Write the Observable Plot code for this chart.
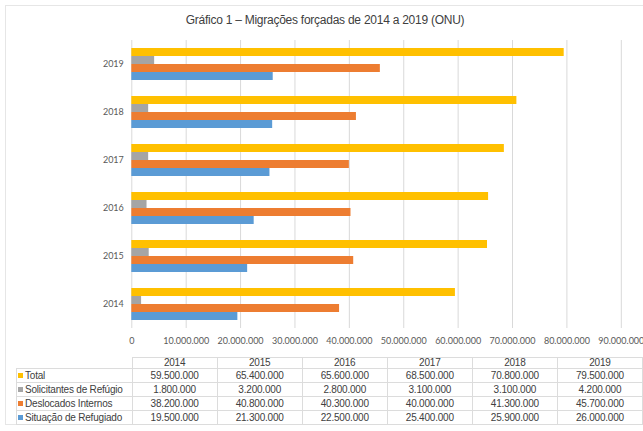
<!DOCTYPE html>
<html><head><meta charset="utf-8">
<script src="https://cdn.jsdelivr.net/npm/d3@7"></script>
<script src="https://cdn.jsdelivr.net/npm/@observablehq/plot@0.6"></script>
<style>
html,body{margin:0;padding:0;background:#fff;}
#wrap{position:relative;width:643px;height:431px;overflow:hidden;font-family:"Liberation Sans",Arial,sans-serif;}
#frame{position:absolute;left:5px;top:5px;width:660px;height:420px;border:1px solid #e6e6e6;box-sizing:border-box;}
#title{position:absolute;left:0;top:13px;width:650px;text-align:center;font-size:12px;color:#404040;letter-spacing:-0.25px;}
#chart{position:absolute;left:0;top:0;}
#tbl{position:absolute;left:16px;top:357px;border-collapse:collapse;font-size:10px;color:#404040;letter-spacing:-0.2px;table-layout:fixed;}
#tbl td{border:1px solid #dcdcdc;padding:0;text-align:center;height:13px;line-height:13px;white-space:nowrap;overflow:hidden;}
#tbl tr.h td{height:9.5px;line-height:9.5px;}
#tbl td.lab{text-align:left;padding-left:1px;}
#tbl td.blank{border:none;}
.sw{display:inline-block;width:5px;height:5px;margin-right:2px;vertical-align:1px;}
</style></head>
<body><div id="wrap"><div id="frame"></div><div id="title">Gráfico 1 – Migrações forçadas de 2014 a 2019 (ONU)</div><div id="chart"></div><table id="tbl"></table></div>
<script>
const years = ["2014","2015","2016","2017","2018","2019"];
const seriesNames = ["Total","Solicitantes de Refúgio","Deslocados Internos","Situação de Refugiado"];
const total = [59500000,65400000,65600000,68500000,70800000,79500000];
const solicitantes = [1800000,3200000,2800000,3100000,3100000,4200000];
const deslocados = [38200000,40800000,40300000,40000000,41300000,45700000];
const refugiados = [19500000,21300000,22500000,25400000,25900000,26000000];
const colors = ["#FFC000","#A5A5A5","#ED7D31","#5B9BD5"];
const xTicks = [0,10000000,20000000,30000000,40000000,50000000,60000000,70000000,80000000,90000000];

const seriesValues = [total, solicitantes, deslocados, refugiados];
const data = [];
years.forEach((y,i)=>seriesNames.forEach((s,j)=>data.push({year:y, series:s, value:seriesValues[j][i]})));

const fmt = d3.formatLocale({decimal:",",thousands:".",grouping:[3],currency:["",""]}).format(",d");

const chart = Plot.plot({
  width:643, height:350,
  marginLeft:131.3, marginRight:22.2, marginTop:37, marginBottom:19.5,
  style:{fontFamily:"Lato, 'Open Sans', sans-serif", fontSize:"9px", color:"#595959", background:"transparent"},
  x:{domain:[0,90000000], ticks:xTicks, tickFormat:fmt, tickSize:0, tickPadding:9, label:null},
  y:{domain:seriesNames, axis:null, paddingInner:0.06, paddingOuter:0.9},
  fy:{domain:years.slice().reverse(), padding:0, axis:"left", tickSize:0, tickPadding:8, label:null},
  color:{domain:seriesNames, range:colors},
  marks:[
    Plot.ruleX(xTicks, {stroke:"#d9d9d9", strokeWidth:1}),
    Plot.barX(data, {x:"value", y:"series", fy:"year", fill:"series"})
  ]
});
document.getElementById("chart").appendChild(chart);
chart.querySelectorAll("text").forEach(t=>{t.setAttribute("fill","#595959");});

// table
const tbl = document.getElementById("tbl");
const colgroup = document.createElement("colgroup");
[115.7,85.5,85.5,85.5,85.5,85.5,85.5].forEach(w=>{const c=document.createElement("col");c.style.width=w+"px";colgroup.appendChild(c);});
tbl.appendChild(colgroup);
const hr = document.createElement("tr"); hr.className="h";
const b = document.createElement("td"); b.className="blank"; hr.appendChild(b);
years.forEach(y=>{const td=document.createElement("td"); td.textContent=y; hr.appendChild(td);});
tbl.appendChild(hr);
seriesNames.forEach((s,j)=>{
  const tr=document.createElement("tr");
  const l=document.createElement("td"); l.className="lab";
  const sw=document.createElement("span"); sw.className="sw"; sw.style.background=colors[j];
  l.appendChild(sw); l.appendChild(document.createTextNode(s)); tr.appendChild(l);
  seriesValues[j].forEach(v=>{const td=document.createElement("td"); td.textContent=fmt(v); tr.appendChild(td);});
  tbl.appendChild(tr);
});
</script></body></html>
